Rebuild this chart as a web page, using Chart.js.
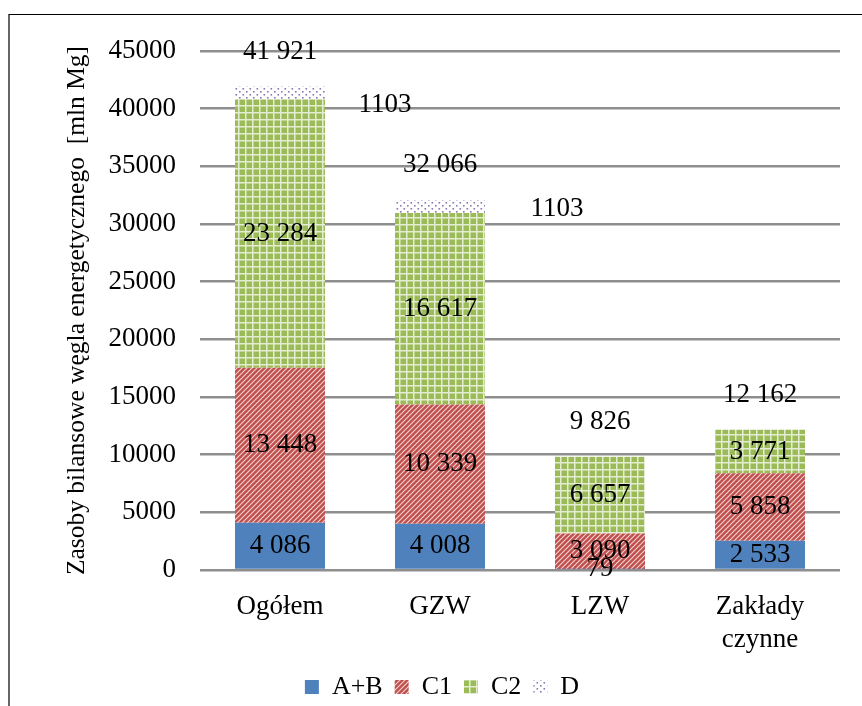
<!DOCTYPE html>
<html>
<head>
<meta charset="utf-8">
<script src="https://cdn.jsdelivr.net/npm/chart.js@4/dist/chart.umd.min.js"></script>
<style>
  html, body { margin: 0; padding: 0; background: #fff; }
  #wrap { position: relative; width: 862px; height: 706px; overflow: hidden; }
  #frame { position: absolute; left: 8px; top: 14px; width: 900px; height: 800px;
           border-top: 1.5px solid #000; border-left: 2px solid #666; }
  canvas { position: absolute; left: 0; top: 0; }
</style>
</head>
<body>
<div id="wrap">
  <div id="frame"></div>
  <canvas id="c" width="862" height="706"></canvas>
</div>
<script>
const categories = ['Ogółem', 'GZW', 'LZW', ['Zakłady', 'czynne']];
const seriesNames = ['A+B', 'C1', 'C2', 'D'];
const valuesAB = [4086, 4008, 79, 2533];
const valuesC1 = [13448, 10339, 3090, 5858];
const valuesC2 = [23284, 16617, 6657, 3771];
const valuesD = [1103, 1103, 0, 0];
const totals = [41921, 32066, 9826, 12162];
const yTicks = [0, 5000, 10000, 15000, 20000, 25000, 30000, 35000, 40000, 45000];

const FONT = "'Liberation Serif', 'Times New Roman', serif";

function makePattern(kind) {
  const c = document.createElement('canvas');
  const ctx = c.getContext('2d');
  if (kind === 'hatch') {
    c.width = 5; c.height = 5;
    ctx.fillStyle = '#c0504d'; ctx.fillRect(0, 0, 5, 5);
    ctx.strokeStyle = 'rgba(255,235,235,0.85)'; ctx.lineWidth = 1.1;
    ctx.beginPath();
    ctx.moveTo(-1, 6); ctx.lineTo(6, -1);
    ctx.moveTo(-1, 1); ctx.lineTo(1, -1);
    ctx.moveTo(4, 6); ctx.lineTo(6, 4);
    ctx.stroke();
  } else if (kind === 'grid') {
    c.width = 7; c.height = 7;
    ctx.fillStyle = '#9bbb59'; ctx.fillRect(0, 0, 7, 7);
    ctx.fillStyle = '#e4edd2';
    ctx.fillRect(0, 0, 7, 1.5);
    ctx.fillRect(0, 0, 1.5, 7);
  } else {
    c.width = 7; c.height = 6;
    ctx.fillStyle = '#ffffff'; ctx.fillRect(0, 0, 7, 6);
    ctx.fillStyle = '#8a78b3';
    ctx.fillRect(1, 1, 1.6, 1.6);
    ctx.fillRect(4.5, 4, 1.6, 1.6);
  }
  return document.createElement('canvas').getContext('2d').createPattern(c, 'repeat');
}

function fmtSpace(v) {
  return String(v).replace(/\B(?=(\d{3})+(?!\d))/g, ' ');
}

const labelPlugin = {
  id: 'valueLabels',
  beforeDraw(chart, args, opts) {
    const lg = chart.legend;
    if (lg && !lg._shifted) {
      lg.left += opts.legendShift[0]; lg.right += opts.legendShift[0];
      lg.top += opts.legendShift[1]; lg.bottom += opts.legendShift[1];
      lg._shifted = true;
    }
  },
  afterDatasetsDraw(chart, args, opts) {
    const ctx = chart.ctx;
    ctx.save();
    ctx.font = '27px ' + FONT;
    ctx.fillStyle = '#000';
    ctx.textAlign = 'center';
    ctx.textBaseline = 'middle';
    chart.data.datasets.forEach((ds, i) => {
      const meta = chart.getDatasetMeta(i);
      meta.data.forEach((el, j) => {
        const v = ds.data[j];
        if (!v) return;
        let x = el.x, y = (el.y + el.base) / 2;
        let txt = fmtSpace(v);
        if (i === 3) {
          const off = opts.dOffsets[j] || [0, 0];
          x += off[0]; y += off[1];
          txt = String(v);
        }
        ctx.fillText(txt, x, y);
      });
    });
    const yScale = chart.scales.y;
    const meta0 = chart.getDatasetMeta(0);
    totals.forEach((t, j) => {
      const x = meta0.data[j].x;
      const y = yScale.getPixelForValue(t) - opts.totalGap;
      ctx.fillText(fmtSpace(t), x, y);
    });
    ctx.restore();
  }
};

const colors = ['#4f81bd', makePattern('hatch'), makePattern('grid'), makePattern('dots')];
const seriesValues = [valuesAB, valuesC1, valuesC2, valuesD];

new Chart(document.getElementById('c'), {
  type: 'bar',
  data: {
    labels: categories,
    datasets: seriesNames.map((n, i) => ({
      label: n,
      data: seriesValues[i],
      backgroundColor: colors[i],
      borderWidth: 0,
      categoryPercentage: 1,
      barPercentage: 0.5625
    }))
  },
  options: {
    responsive: false,
    animation: false,
    devicePixelRatio: 1,
    layout: { padding: { top: 51, right: 22, left: 0, bottom: 2 } },
    plugins: {
      tooltip: { enabled: false },
      legend: {
        position: 'bottom',
        labels: {
          font: { family: FONT, size: 26 },
          color: '#000',
          boxWidth: 14, boxHeight: 14,
          padding: 12
        }
      },
      valueLabels: { dOffsets: [[105, 12], [117, 2]], totalGap: 35, legendShift: [22, 6] }
    },
    scales: {
      x: {
        stacked: true,
        grid: { display: false },
        border: { display: false },
        ticks: { font: { family: FONT, size: 27 }, color: '#000', padding: 13, maxRotation: 0 },
        afterFit(s) { s.height = 86; }
      },
      y: {
        stacked: true,
        min: 0, max: 45000,
        afterBuildTicks(s) { s.ticks = yTicks.map(v => ({ value: v })); },
        grid: { color: '#8e8e8e', lineWidth: 2.5, drawTicks: false },
        border: { display: false },
        ticks: { font: { family: FONT, size: 27 }, color: '#000', padding: 24,
                 callback: v => String(v) },
        title: { display: true, text: 'Zasoby bilansowe węgla energetycznego  [mln Mg]',
                 font: { family: FONT, size: 25.5 }, color: '#000', padding: { top: 62, bottom: 0 } },
        afterFit(s) { s.width = 200; }
      }
    }
  },
  plugins: [labelPlugin]
});
</script>
</body>
</html>
